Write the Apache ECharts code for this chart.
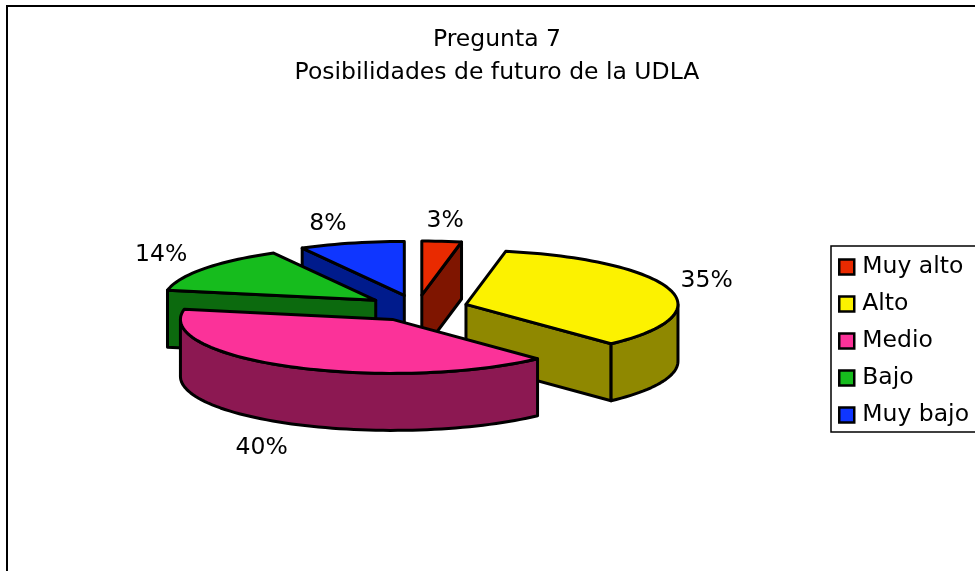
<!DOCTYPE html>
<html>
<head>
<meta charset="utf-8">
<style>html,body{margin:0;padding:0;background:#fff}#c{width:975px;height:571px}</style>
<script src="https://cdn.jsdelivr.net/npm/echarts@6/dist/echarts.min.js"></script>
</head>
<body>
<div id="c"></div>
<script>
const categories = ['Muy alto', 'Alto', 'Medio', 'Bajo', 'Muy bajo'];
const values = [3, 35, 40, 14, 8];
const topColors = ['#E92A00', '#FCF200', '#FB3299', '#16BC1D', '#0F36FF'];
const sideColors = ['#7F1500', '#8F8800', '#8C1852', '#0C6A0E', '#001B8C'];
const titleLines = ['Pregunta 7', 'Posibilidades de futuro de la UDLA'];

// Layout of the tilted pie (pixels)
const FONT = '"DejaVu Sans", sans-serif';
const pie = { cx: 417, cy: 308, a: 212, b: 54, depth: 57, explode: 51, lineWidth: 3 };
const labelRing = { rx: 310, ry: 88 };
const labelNudge = [[-1, 1], [-8, -3], [-6, 63], [-5, -1], [-12, 1]];
const drawOrder = [4, 0, 3, 1, 2];

const total = values.reduce((s, v) => s + v, 0);
const rad = d => d * Math.PI / 180;
function sliceAngles(i) {
  const before = values.slice(0, i).reduce((s, v) => s + v, 0);
  return [before / total * 360, (before + values[i]) / total * 360];
}

function renderSlice(i, api) {
  const value = api.value(0);
  const [t0, t1] = sliceAngles(i);
  const mid = (t0 + t1) / 2;
  const ax = pie.cx + pie.explode * Math.sin(rad(mid));
  const ay = pie.cy - pie.explode * Math.cos(rad(mid)) * pie.b / pie.a;
  const rim = t => [ax + pie.a * Math.sin(rad(t)), ay - pie.b * Math.cos(rad(t))];
  const down = p => [p[0], p[1] + pie.depth];
  const arc = (from, to) => {
    const pts = [];
    const n = Math.max(1, Math.ceil((to - from) / 2));
    for (let k = 0; k <= n; k++) pts.push(rim(from + (to - from) * k / n));
    return pts;
  };
  const face = (points, fill) => ({
    type: 'polygon',
    shape: { points },
    style: { fill, stroke: '#000', lineWidth: pie.lineWidth, lineJoin: 'round' }
  });
  const apex = [ax, ay];
  const children = [];
  const cut = t => face([apex, rim(t), down(rim(t)), down(apex)], sideColors[i]);
  if (Math.sin(rad(t0)) < -1e-6) children.push(cut(t0));
  if (Math.sin(rad(t1)) > 1e-6) children.push(cut(t1));
  const w0 = Math.max(t0, 90), w1 = Math.min(t1, 270);
  if (w1 > w0) {
    const top = arc(w0, w1);
    children.push(face(top.concat(top.map(down).reverse()), sideColors[i]));
  }
  children.push(face([apex].concat(arc(t0, t1)), topColors[i]));
  children.push({
    type: 'text',
    x: pie.cx + labelRing.rx * Math.sin(rad(mid)) + labelNudge[i][0],
    y: pie.cy - labelRing.ry * Math.cos(rad(mid)) + labelNudge[i][1],
    style: { text: value + '%', fill: '#000', font: '23.5px ' + FONT, align: 'center', verticalAlign: 'middle' }
  });
  return { type: 'group', children };
}

const chart = echarts.init(document.getElementById('c'), null, { renderer: 'canvas' });
chart.setOption({
  animation: false,
  backgroundColor: '#fff',
  title: {
    text: titleLines.join('\n'),
    left: 492, top: 18, textAlign: 'center',
    textStyle: { color: '#000', fontFamily: FONT, fontWeight: 'normal', fontSize: 23.5, lineHeight: 33 }
  },
  legend: {
    data: categories,
    orient: 'vertical',
    left: 831, top: 246,
    padding: [9, 12, 5, 7],
    itemWidth: 15, itemHeight: 15, itemGap: 13,
    icon: 'rect',
    borderColor: '#000', borderWidth: 1.5,
    selectedMode: false,
    itemStyle: { borderColor: '#000', borderWidth: 2.5 },
    textStyle: { color: '#000', fontFamily: FONT, fontSize: 23.5, padding: [0, 0, 0, 3] }
  },
  graphic: [{
    type: 'rect', silent: true, z: -1,
    shape: { x: 7, y: 6, width: 1200, height: 800 },
    style: { fill: 'none', stroke: '#000', lineWidth: 2 }
  }],
  series: categories.map((name, i) => ({
    type: 'custom',
    name,
    coordinateSystem: 'none',
    z: 2 + drawOrder.indexOf(i),
    silent: true,
    itemStyle: { color: topColors[i] },
    data: [[values[i]]],
    renderItem: (params, api) => renderSlice(i, api)
  }))
});
</script>
</body>
</html>
